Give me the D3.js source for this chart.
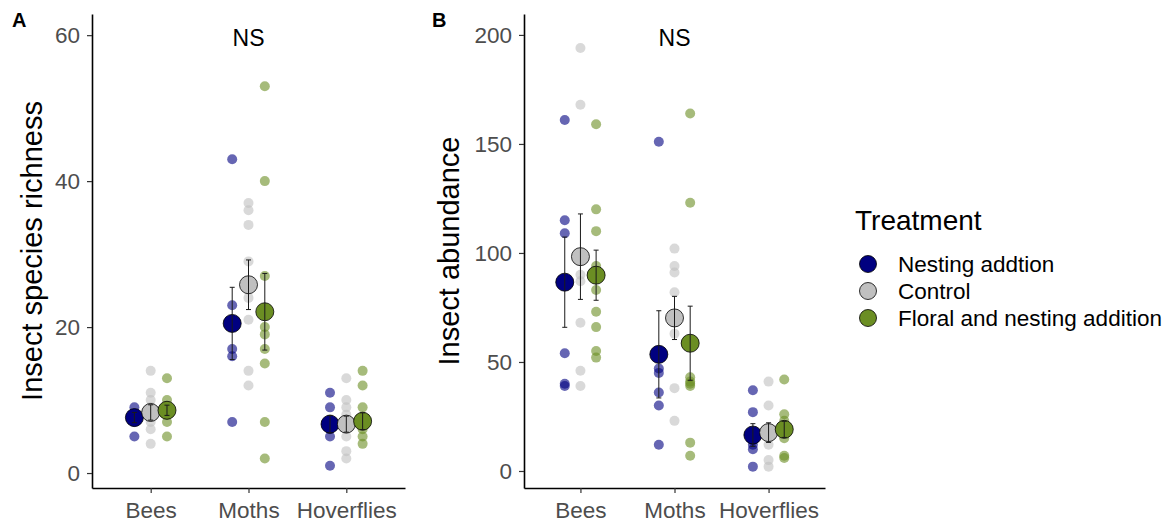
<!DOCTYPE html>
<html>
<head>
<meta charset="utf-8">
<script src="https://cdn.jsdelivr.net/npm/d3@7"></script>
<style>
  html, body { margin: 0; padding: 0; background: #fff; }
  svg { display: block; font-family: "Liberation Sans", Arial, sans-serif; }
</style>
</head>
<body>
<svg id="chart" width="1172" height="524"></svg>
<script>
// ---------------- DATA ----------------
const categories = ["Bees", "Moths", "Hoverflies"];
const treatments = ["Nesting addtion", "Control", "Floral and nesting addition"];

// Panel A: insect species richness (individual sites), per treatment
const richnessBees       = [[9, 8, 7, 5], [14, 11, 10, 9, 8, 7, 6, 4], [13, 10, 9, 8, 7, 5]];
const richnessMoths      = [[43, 23, 20, 17, 16, 7], [37, 36, 34, 29, 24, 21, 14, 12], [53, 40, 27, 22, 20, 19, 17, 15, 7, 2]];
const richnessHoverflies = [[11, 9, 7, 6, 5, 1], [13, 10, 9, 8, 7, 5, 3, 2], [14, 12, 9, 7, 6, 5, 4]];
// means and standard errors: rows = categories, columns = treatments
const richnessMean = [[7.6, 8.3, 8.6], [20.5, 25.8, 22.1], [6.7, 6.7, 7.1]];
const richnessSE   = [[0.7, 1.05, 0.7], [4.95, 3.4, 5.25], [1.2, 1.1, 1.15]];
const richnessTicks = [0, 20, 40, 60];

// Panel B: insect abundance
const abundanceBees       = [[161, 115, 109, 54, 40, 39], [194, 168, 90, 87, 68, 46, 39], [159, 120, 110, 94, 83, 73, 66, 55, 52]];
const abundanceMoths      = [[151, 47, 45, 36, 30, 12], [102, 94, 91, 82, 63, 38, 23], [164, 123, 43, 41, 40, 39, 13, 7]];
const abundanceHoverflies = [[37, 27, 14, 12, 10, 2], [41, 30, 17, 12, 5, 2], [42, 26, 23, 20, 15, 7, 6]];
const abundanceMean = [[86.6, 98.3, 89.8], [53.5, 70.2, 58.6], [16.5, 17.6, 19.1]];
const abundanceSE   = [[20.7, 19.6, 11.5], [20, 9.9, 17], [5.2, 4.5, 3.7]];
const abundanceTicks = [0, 50, 100, 150, 200];

// ---------------- STYLE ----------------
const colors = ["#000080", "#C0C0C0", "#6B8E23"];
const FONT = "'Liberation Sans', Arial, sans-serif";

const svg = d3.select("#chart");

function drawPanel(opts) {
  const { left, right, top, bottom, yDomain, ticks, pointSets, means, ses, yTitle, titleX, tag, tagX } = opts;
  const g = svg.append("g");

  const x = d3.scalePoint().domain(categories).range([left, right]).padding(0.6);
  const y = d3.scaleLinear().domain(yDomain).range([bottom, top]);
  const dodge = d3.scalePoint().domain(treatments).range([-x.step() / 6, x.step() / 6]);

  // individual points
  categories.forEach((cat, ci) => {
    treatments.forEach((tr, ti) => {
      g.selectAll(null)
        .data(pointSets[ci][ti])
        .enter().append("circle")
        .attr("cx", x(cat) + dodge(tr))
        .attr("cy", d => y(d))
        .attr("r", 5)
        .attr("fill", colors[ti])
        .attr("fill-opacity", 0.6);
    });
  });

  // mean points
  categories.forEach((cat, ci) => {
    treatments.forEach((tr, ti) => {
      g.append("circle")
        .attr("cx", x(cat) + dodge(tr))
        .attr("cy", y(means[ci][ti]))
        .attr("r", 9)
        .attr("fill", colors[ti])
        .attr("stroke", "#000")
        .attr("stroke-width", 0.8);
    });
  });

  // error bars
  categories.forEach((cat, ci) => {
    treatments.forEach((tr, ti) => {
      const cx = x(cat) + dodge(tr);
      const lo = y(means[ci][ti] - ses[ci][ti]);
      const hi = y(means[ci][ti] + ses[ci][ti]);
      const w = 2.5;
      const eb = g.append("g").attr("stroke", "#1a1a1a").attr("stroke-width", 1).attr("fill", "none");
      eb.append("line").attr("x1", cx).attr("x2", cx).attr("y1", lo).attr("y2", hi);
      eb.append("line").attr("x1", cx - w).attr("x2", cx + w).attr("y1", lo).attr("y2", lo);
      eb.append("line").attr("x1", cx - w).attr("x2", cx + w).attr("y1", hi).attr("y2", hi);
    });
  });

  // axes
  const ya = g.append("g").attr("transform", `translate(${left},0)`)
    .call(d3.axisLeft(y).tickValues(ticks).tickSize(5).tickSizeOuter(0).tickPadding(7));
  const xa = g.append("g").attr("transform", `translate(0,${bottom})`)
    .call(d3.axisBottom(x).tickSize(5).tickSizeOuter(0).tickPadding(9));
  [ya, xa].forEach(a => {
    a.select(".domain").attr("stroke", "#000").attr("stroke-width", 1.6);
    a.selectAll(".tick line").attr("stroke", "#333").attr("stroke-width", 1.2);
    a.selectAll(".tick text").attr("fill", "#4d4d4d").style("font-family", FONT).style("font-size", "22.5px");
  });

  // y title
  g.append("text")
    .attr("transform", `translate(${titleX},${(top + bottom) / 2}) rotate(-90)`)
    .attr("text-anchor", "middle")
    .style("font-family", FONT).style("font-size", "29px")
    .attr("fill", "#000")
    .text(yTitle);

  // NS annotation
  g.append("text")
    .attr("x", x("Moths")).attr("y", 46)
    .attr("text-anchor", "middle")
    .style("font-family", FONT).style("font-size", "23px")
    .attr("fill", "#000")
    .text("NS");

  // panel tag
  g.append("text")
    .attr("x", tagX).attr("y", 27)
    .style("font-family", FONT).style("font-size", "20px").style("font-weight", "bold")
    .attr("fill", "#000")
    .text(tag);
}

drawPanel({
  left: 92, right: 405, top: 14, bottom: 488,
  yDomain: [-2.05, 62.9], ticks: richnessTicks,
  pointSets: [richnessBees, richnessMoths, richnessHoverflies],
  means: richnessMean, ses: richnessSE,
  yTitle: "Insect species richness", titleX: 42, tag: "A", tagX: 12
});

drawPanel({
  left: 524, right: 825, top: 14, bottom: 488,
  yDomain: [-7.8, 209.6], ticks: abundanceTicks,
  pointSets: [abundanceBees, abundanceMoths, abundanceHoverflies],
  means: abundanceMean, ses: abundanceSE,
  yTitle: "Insect abundance", titleX: 459, tag: "B", tagX: 432
});

// legend
const legend = svg.append("g");
legend.append("text")
  .attr("x", 855).attr("y", 230)
  .style("font-family", FONT).style("font-size", "28px")
  .attr("fill", "#000")
  .text("Treatment");
treatments.forEach((tr, i) => {
  const cy = 264 + i * 27;
  legend.append("circle")
    .attr("cx", 868).attr("cy", cy).attr("r", 8.5)
    .attr("fill", colors[i]).attr("stroke", "#000").attr("stroke-width", 0.8);
  legend.append("text")
    .attr("x", 898).attr("y", cy + 8)
    .style("font-family", FONT).style("font-size", "22.5px")
    .attr("fill", "#000")
    .text(tr);
});
</script>
</body>
</html>
